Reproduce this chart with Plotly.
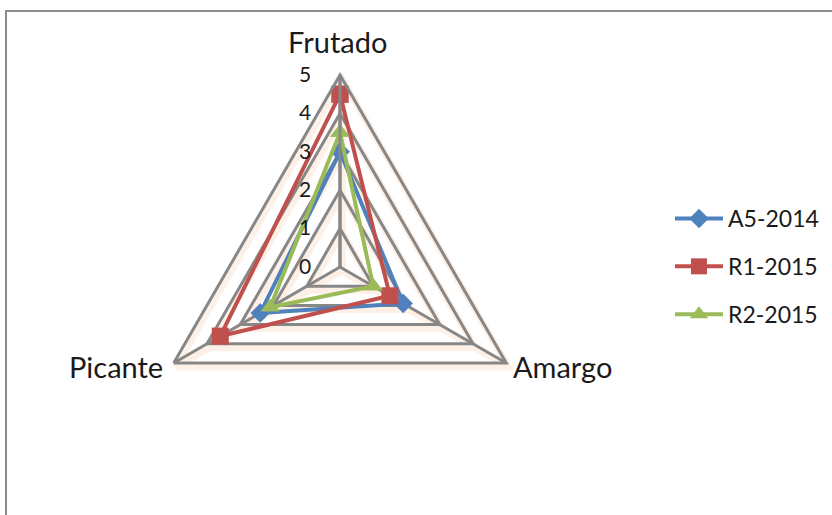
import math
import plotly.graph_objects as go

# Attributes on the radar axes, clockwise from the top
attributes = ["Frutado", "Amargo", "Picante"]

# Panel scores per sample
series_names = ["A5-2014", "R1-2015", "R2-2015"]
a5_2014 = [3.0, 1.9, 2.4]
r1_2015 = [4.5, 1.5, 3.6]
r2_2015 = [3.5, 1.0, 2.1]

radial_ticks = [0, 1, 2, 3, 4, 5]

colors = ["#4F81BD", "#C0504D", "#9BBB59"]
symbols = ["diamond", "square", "triangle-up"]
marker_sizes = [15, 17, 17]

W, H = 832, 515
cx, cy, R = 340, 267, 192  # pixel centre and radius of the radar


def domain(dx=0, dy=0):
    x0 = (cx - R + dx) / W
    x1 = (cx + R + dx) / W
    y0 = 1 - (cy + R + dy) / H
    y1 = 1 - (cy - R + dy) / H
    return dict(x=[x0, x1], y=[y0, y1])


fig = go.Figure()

# Empty trace so the soft shadow layer is rendered
fig.add_trace(go.Scatterpolar(r=[None], theta=[attributes[0]], subplot="polar",
                              showlegend=False, hoverinfo="skip"))

values = [a5_2014, r1_2015, r2_2015]
for name, vals, col, sym, ms in zip(series_names, values, colors, symbols, marker_sizes):
    fig.add_trace(go.Scatterpolar(
        r=vals + [vals[0]],
        theta=attributes + [attributes[0]],
        mode="lines+markers",
        name=name,
        legendgroup=name,
        subplot="polar2",
        line=dict(color=col, width=4),
        marker=dict(symbol=sym, size=ms, color=col),
    ))

shadow = "#FDF0E6"
grid = "#878787"

common_angular = dict(
    categoryarray=attributes, categoryorder="array",
    rotation=90, direction="clockwise",
)

# Category names placed just outside each vertex of the outer triangle
label_cfg = {
    "Frutado": dict(xanchor="center", yanchor="bottom", dx=-3, dy=-14),
    "Amargo": dict(xanchor="left", yanchor="middle", dx=5, dy=3),
    "Picante": dict(xanchor="right", yanchor="middle", dx=-9, dy=3),
}
annotations = []
for i, cat in enumerate(attributes):
    ang = math.radians(90 - 120 * i)
    vx = cx + R * math.cos(ang)
    vy = cy - R * math.sin(ang)
    c = label_cfg[cat]
    annotations.append(dict(
        text=cat, showarrow=False, xref="paper", yref="paper",
        x=(vx + c["dx"]) / W, y=1 - (vy + c["dy"]) / H,
        xanchor=c["xanchor"], yanchor=c["yanchor"],
        font=dict(size=29, color="#1a1a1a"),
    ))

fig.update_layout(
    width=W, height=H,
    margin=dict(l=0, r=0, t=0, b=0),
    paper_bgcolor="white",
    font=dict(family="Lato, 'Open Sans', sans-serif", color="#1a1a1a"),
    polar=dict(
        domain=domain(2, 4),
        gridshape="linear",
        bgcolor="rgba(0,0,0,0)",
        radialaxis=dict(range=[0, 5], tickvals=radial_ticks, showticklabels=False,
                        gridcolor=shadow, gridwidth=7, linecolor=shadow, linewidth=7,
                        angle=90, ticks=""),
        angularaxis=dict(**common_angular, showticklabels=False, ticks="",
                         gridcolor=shadow, gridwidth=7, linecolor=shadow, linewidth=7),
    ),
    polar2=dict(
        domain=domain(),
        gridshape="linear",
        bgcolor="rgba(0,0,0,0)",
        radialaxis=dict(range=[0, 5], tickvals=radial_ticks,
                        gridcolor=grid, gridwidth=3, linecolor=grid, linewidth=3,
                        angle=90, side="counterclockwise", tickangle=90,
                        ticks="outside", ticklen=20, tickcolor="rgba(0,0,0,0)",
                        tickfont=dict(size=21, color="#1a1a1a")),
        angularaxis=dict(**common_angular, ticks="", showticklabels=False,
                         gridcolor=grid, gridwidth=3, linecolor=grid, linewidth=3),
    ),
    annotations=annotations,
    legend=dict(x=670 / W, y=1 - 197 / H, xanchor="left", yanchor="top",
                font=dict(size=23, color="#1a1a1a"), tracegroupgap=15,
                itemwidth=48, bgcolor="rgba(0,0,0,0)"),
    shapes=[dict(type="rect", xref="paper", yref="paper",
                 x0=6 / W, x1=1.05, y0=-0.05, y1=1 - 11 / H,
                 line=dict(color="#8C8C8C", width=2))],
)

fig.write_html("out.html")
